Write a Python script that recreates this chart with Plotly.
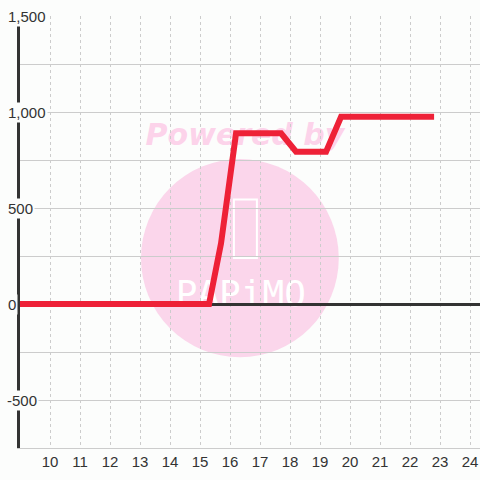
import plotly.graph_objects as go

# series
x_vals = [9, 15.3, 15.7, 16.2, 17.7, 18.2, 19.2, 19.7, 22.8]
y_vals = [0, 0, 316, 889, 889, 793, 793, 975, 975]

x_ticks = list(range(10, 25))
y_grid = [-750, -500, -250, 0, 250, 500, 750, 1000, 1250, 1500]
y_label_vals = [1500, 1000, 500, 0, -500]
y_label_text = ["1,500", "1,000", "500", "0", "-500"]

bg = "#FCFDFC"
ink = "#333333"

fig = go.Figure()

fig.add_trace(
    go.Scatter(
        x=x_vals,
        y=y_vals,
        mode="lines",
        line=dict(color="#EE2137", width=6),
        hoverinfo="skip",
        showlegend=False,
    )
)

# watermark, kept under the data
shapes = [
    dict(type="circle", xref="paper", yref="paper", layer="below",
         x0=0.263, x1=0.693, y0=0.210, y1=0.669,
         fillcolor="#FBD6EB", line=dict(width=0)),
    dict(type="rect", xref="paper", yref="paper", layer="below",
         x0=0.465, x1=0.515, y0=0.44, y1=0.575,
         fillcolor="rgba(0,0,0,0)", line=dict(color="white", width=2)),
    dict(type="rect", xref="paper", yref="paper", layer="below",
         x0=0.189, x1=0.789, y0=0.69, y1=0.77,
         fillcolor="rgba(0,0,0,0)", line=dict(width=0),
         label=dict(text="Powered by",
                    font=dict(family="DejaVu Sans", size=30, color="#FCD3EA",
                              weight="bold", style="italic"))),
    dict(type="rect", xref="paper", yref="paper", layer="below",
         x0=0.3, x1=0.66, y0=0.32, y1=0.41,
         fillcolor="rgba(0,0,0,0)", line=dict(width=0),
         label=dict(text="PAPiMO",
                    font=dict(family="DejaVu Sans Mono", size=36, color="white"))),
]

# y tick labels drawn with a backing box so they cut the axis like the original
annotations = []
for v, t in zip(y_label_vals, y_label_text):
    annotations.append(
        dict(x=0, xref="paper", y=v, yref="y", text=t, showarrow=False,
             xanchor="left", xshift=-15 if t.startswith("-") else -14,
             font=dict(family="Liberation Sans, Arial", size=15, color=ink),
             bgcolor=bg, borderpad=1)
    )

fig.update_layout(
    width=480,
    height=480,
    margin=dict(l=20, r=0, t=16, b=32, autoexpand=False),
    paper_bgcolor=bg,
    plot_bgcolor=bg,
    shapes=shapes,
    annotations=annotations,
    font=dict(family="Liberation Sans, Arial", size=15, color=ink),
    xaxis=dict(
        range=[9, 24.33],
        tickvals=x_ticks,
        automargin=False,
        showgrid=True,
        gridcolor="#CCCCCC",
        griddash="dot",
        gridwidth=1,
        zeroline=False,
        showline=True,
        linecolor="#CCCCCC",
        linewidth=1,
        ticks="",
        tickfont=dict(size=15, color=ink),
    ),
    yaxis=dict(
        range=[-750, 1500],
        tickvals=y_grid,
        automargin=False,
        showticklabels=False,
        showgrid=True,
        gridcolor="#CCCCCC",
        gridwidth=1,
        zeroline=True,
        zerolinecolor=ink,
        zerolinewidth=3,
        showline=True,
        linecolor=ink,
        linewidth=3,
        ticks="",
    ),
)

fig.write_html(
    "out.html",
    config={"displayModeBar": False},
    post_script="document.body.style.margin='0';document.body.style.padding='0';",
)
